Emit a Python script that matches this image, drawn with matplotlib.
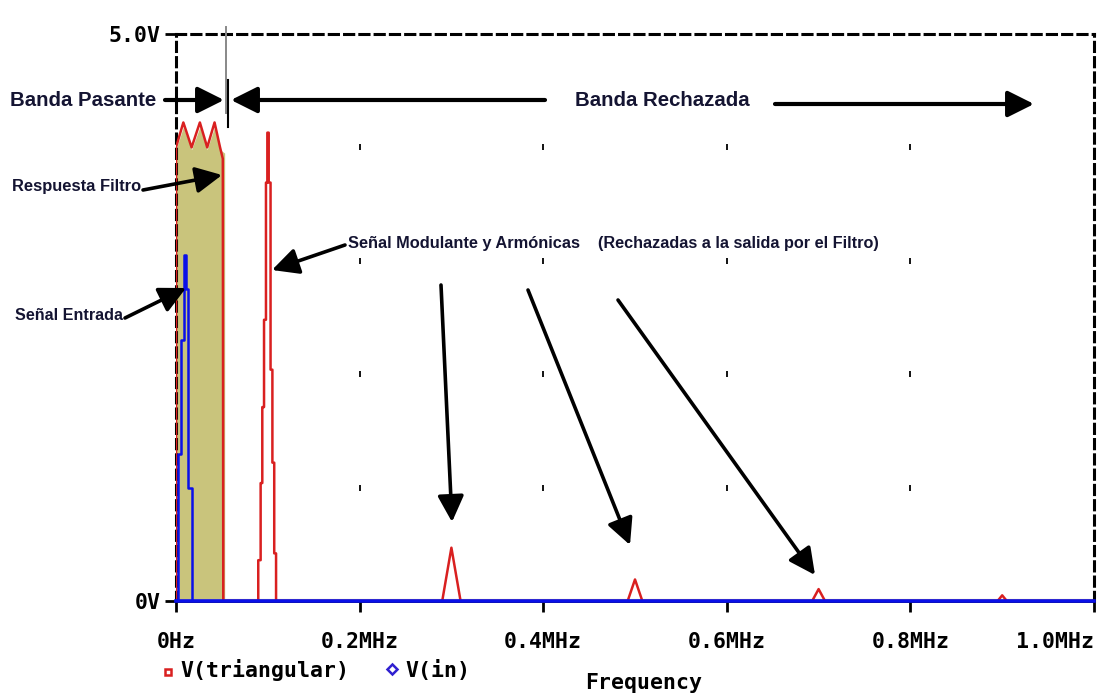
import matplotlib
matplotlib.use("Agg")
import matplotlib.pyplot as plt
from matplotlib import font_manager
from matplotlib.patches import FancyArrowPatch
from matplotlib.lines import Line2D

# ---------------- data ----------------
x_ticks = [0.0, 0.2, 0.4, 0.6, 0.8, 1.0]
x_tick_labels = ["0Hz", "0.2MHz", "0.4MHz", "0.6MHz", "0.8MHz", "1.0MHz"]
y_ticks = [0.0, 5.0]
y_tick_labels = ["0V", "5.0V"]

# V(triangular) spectrum (MHz, V)
freq_tri = [0.0, 0.0, 0.008, 0.017, 0.026, 0.034, 0.042, 0.048, 0.051, 0.0515,
            0.0896, 0.0896, 0.0922, 0.0922, 0.094, 0.094, 0.0959, 0.0959, 0.098, 0.098,
            0.0995, 0.0995, 0.101, 0.101, 0.103, 0.103, 0.105, 0.105, 0.107, 0.107, 0.109, 0.109,
            0.290, 0.300, 0.310,
            0.492, 0.500, 0.508,
            0.693, 0.700, 0.707,
            0.895, 0.900, 0.905,
            1.0]
v_tri = [0.0, 4.0, 4.22, 4.0, 4.22, 4.0, 4.22, 4.0, 3.9, 0.0,
         0.0, 0.36, 0.36, 1.04, 1.04, 1.71, 1.71, 2.48, 2.48, 3.69,
         3.69, 4.13, 4.13, 3.69, 3.69, 2.04, 2.04, 1.22, 1.22, 0.42, 0.42, 0.0,
         0.0, 0.47, 0.0,
         0.0, 0.19, 0.0,
         0.0, 0.105, 0.0,
         0.0, 0.05, 0.0,
         0.0]

# V(in) spectrum (MHz, V)
freq_in = [0.0, 0.002, 0.002, 0.005, 0.005, 0.0088, 0.0088, 0.0105, 0.0105, 0.0135,
           0.0135, 0.0175, 0.0175, 1.0]
v_in = [0.0, 0.0, 1.3, 1.3, 2.3, 2.3, 3.05, 3.05, 2.75, 2.75,
        1.0, 1.0, 0.0, 0.0]

# Filter response (shaded pass band)
freq_filter = [0.0, 0.008, 0.017, 0.026, 0.034, 0.042, 0.048, 0.053]
v_filter = [3.98, 4.18, 3.98, 4.18, 3.98, 4.18, 3.98, 3.95]
filter_edge = 0.054

grid_x = [0.2, 0.4, 0.6, 0.8]
grid_y = [1.0, 2.0, 3.0, 4.0]

# ---------------- fonts ----------------
names = {f.name for f in font_manager.fontManager.ttflist}
narrow = "Liberation Sans Narrow" if "Liberation Sans Narrow" in names else "Liberation Sans"
mono = "DejaVu Sans Mono"

W, H = 1099, 698
fig = plt.figure(figsize=(W / 100, H / 100), dpi=100)
L, R, T, B = 176, 1094, 34, 601
ax = fig.add_axes([L / W, 1 - B / H, (R - L) / W, (B - T) / H])
ax.set_xlim(0, 1.0)
ax.set_ylim(0, 5.0)


def fp(px, py):
    return (px / W, 1 - py / H)


RED = "#d92020"
BLUE = "#0a10e8"
FILL = "#c9c47c"

ax.fill_between(freq_filter, 0, v_filter, color=FILL, lw=0, zorder=1)
ax.plot(freq_tri, v_tri, color=RED, lw=1.8, zorder=3)
ax.plot(freq_in, v_in, color=BLUE, lw=1.8, zorder=4)
ax.axhline(0, color="#c8b89a", lw=3, zorder=2)
ax.plot([0, 1.0], [0, 0], color=BLUE, lw=2.6, zorder=5, clip_on=False)
ax.plot([filter_edge, filter_edge], [4.3, 5.06], color="#888888", lw=1.4, zorder=4, clip_on=False)

for gx in grid_x:
    ax.plot([gx] * len(grid_y), grid_y, ls="none", marker="|", ms=4, mew=1.3, color="black", zorder=2)

# spines
for s in ["top", "left", "right"]:
    ax.spines[s].set_linestyle((0, (3, 2)))
    ax.spines[s].set_linewidth(2.2)
ax.spines["bottom"].set_linewidth(2.0)
ax.set_xticks(x_ticks)
ax.set_xticklabels(x_tick_labels)
ax.set_yticks(y_ticks)
ax.set_yticklabels(y_tick_labels)
ax.tick_params(axis="both", direction="out", length=8, width=2)
ax.tick_params(axis="x", pad=14)
ax.tick_params(axis="y", pad=3)
for lab in ax.get_xticklabels() + ax.get_yticklabels():
    lab.set_fontfamily(mono)
    lab.set_fontweight("bold")
    lab.set_fontsize(15.5)
ax.get_xticklabels()[-1].set_horizontalalignment("right")

# ---------------- annotations ----------------
def arrow(p0, p1, lw=3.0, hw=8, hl=16):
    a = FancyArrowPatch(fp(*p0), fp(*p1), transform=fig.transFigure,
                        arrowstyle=f"-|>,head_width={hw/2.2},head_length={hl/2.2}",
                        lw=lw, color="black", mutation_scale=2.2, shrinkA=0, shrinkB=0,
                        zorder=10)
    fig.patches.append(a)


txtkw = dict(fontfamily=narrow, fontweight="bold", color="#141432", va="center", ha="left")
fig.text(*fp(10, 100), "Banda Pasante", fontsize=14.7, **txtkw)
fig.text(*fp(575, 100), "Banda Rechazada", fontsize=14.7, **txtkw)
fig.text(*fp(12, 187), "Respuesta Filtro", fontsize=11.9, **txtkw)
fig.text(*fp(15, 315), "Señal Entrada", fontsize=11.6, **txtkw)
fig.text(*fp(348, 243), "Señal Modulante y Armónicas", fontsize=11.8, **txtkw)
fig.text(*fp(598, 243), "(Rechazadas a la salida por el Filtro)", fontsize=11.7, **txtkw)

arrow((165, 100), (224, 100))
arrow((545, 100), (231, 100))
arrow((775, 104), (1034, 104))
arrow((143, 190), (222, 175), lw=2.6)
arrow((125, 318), (186, 288), lw=2.6)
arrow((345, 245), (272, 270), lw=2.6)
arrow((441, 285), (452, 522), lw=2.6)
arrow((528, 290), (630, 545), lw=2.6)
arrow((618, 300), (815, 575), lw=2.6)
fig.add_artist(Line2D([228 / W, 228 / W], [1 - 80 / H, 1 - 127 / H], color="black", lw=1.5))

# legend and axis title
monokw = dict(fontfamily=mono, fontweight="bold", fontsize=15.5, va="center", ha="left", color="black")
fig.add_artist(Line2D([168 / W], [1 - 672 / H], marker="s", ms=5, mfc="none", mec=RED, mew=1.8, ls="none"))
fig.text(*fp(180, 670), "V(triangular)", **monokw)
fig.add_artist(Line2D([392 / W], [1 - 669 / H], marker="D", ms=5, mfc="none", mec="#3020d0", mew=1.8, ls="none"))
fig.text(*fp(405, 670), "V(in)", **monokw)
fig.text(*fp(585, 683), "Frequency", **monokw)

fig.savefig("out.png", dpi=100)
